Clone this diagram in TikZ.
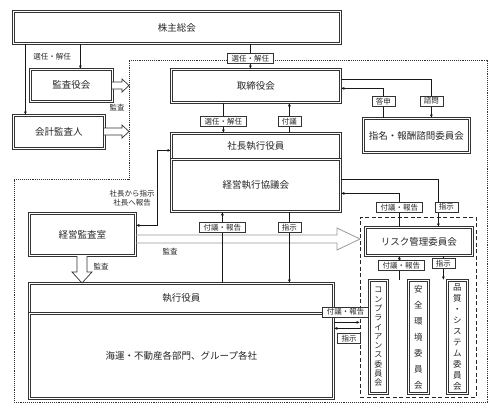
\documentclass[tikz,border=0pt]{standalone}
\usepackage{fontspec}
\setmainfont{Noto Sans CJK JP}
\usetikzlibrary{arrows.meta}

\begin{document}
\begin{tikzpicture}[x=1pt,y=-1pt,
  box/.style={draw=black!80, double=white, double distance=1.1pt, line width=0.8pt, fill=white,
    font=\fontsize{9.5}{11}\selectfont, text=black!85, inner sep=0pt, anchor=north west},
  vbox/.style={box, align=center},
  grp/.style={draw=black!85, line width=0.8pt, dash pattern=on 4pt off 2.5pt, inner sep=0pt, anchor=north west},
  lbl/.style={draw=black!80, fill=white, line width=0.6pt, font=\fontsize{7.5}{9}\selectfont,
    inner xsep=4pt, inner ysep=1.5pt, text=black!85},
  txt/.style={font=\fontsize{7.5}{9}\selectfont, text=black!85, align=center},
  arr/.style={draw=black!90, line width=0.7pt, -{Latex[length=3.5pt,width=3pt]}},
  biarr/.style={arr, {Latex[length=3.5pt,width=3pt]}-{Latex[length=3.5pt,width=3pt]}},
  hollow/.style={draw=black!80, line width=0.7pt, fill=white, line join=miter},
  ghollow/.style={draw=black!40, line width=0.8pt, line join=miter},
  zone/.style={draw=black!80, densely dotted, line width=0.9pt}]
\useasboundingbox (0,0) rectangle (497,410);

% boxes
\node[box, minimum width=327pt, minimum height=32pt] (meeting) at (13,11) {株主総会};
\node[box, minimum width=82pt, minimum height=32pt] (kansayaku) at (30,69) {監査役会};
\node[box, minimum width=91pt, minimum height=33pt] (kaikei) at (13,115) {会計監査人};
\node[box, minimum width=169pt, minimum height=33pt] (tori) at (171,69) {取締役会};
\node[box, minimum width=106pt, minimum height=34pt] (shimei) at (363,118) {指名・報酬諮問委員会};
\node[box, minimum width=169pt, minimum height=26pt] (shacho) at (171,133) {社長執行役員};
\node[box, minimum width=169pt, minimum height=52pt] (kyogikai) at (171,159) {経営執行協議会};
\node[box, minimum width=106pt, minimum height=42pt] (audit) at (29,213) {経営監査室};
\node[box, minimum width=304pt, minimum height=30pt] (shikko) at (29,283) {執行役員};
\node[box, minimum width=304pt, minimum height=85pt] (bumon) at (29,313) {海運・不動産各部門、グループ各社};
\node[grp, minimum width=116pt, minimum height=180pt] (group) at (360,217) {};
\node[box, minimum width=107pt, minimum height=28pt] (risk) at (365,227) {リスク管理委員会};
\node[vbox, font=\fontsize{8}{9.3}\selectfont, minimum width=18pt, minimum height=113pt] (comp) at (369,280)
  {コ\\ン\\プ\\ラ\\イ\\ア\\ン\\ス\\委\\員\\会};
\node[vbox, font=\fontsize{8.5}{16}\selectfont, minimum width=20pt, minimum height=113pt] (anzen) at (408,280)
  {安\\全\\環\\境\\委\\員\\会};
\node[vbox, font=\fontsize{8.5}{11}\selectfont, minimum width=20pt, minimum height=113pt] (hinshitsu) at (447,280)
  {品\\質\\・\\シ\\ス\\テ\\ム\\委\\員\\会};

% dotted zone
\draw[zone] (129,60) -- (487,60) -- (487,402) -- (14,402) -- (14,179) -- (129,179) -- cycle;

% hollow arrows
\draw[hollow] (112,82) -- (122,82) -- (122,79) -- (129,85.5) -- (122,92) -- (122,89) -- (112,89);
\draw[hollow] (104,128) -- (122,128) -- (122,125) -- (129,131.5) -- (122,138) -- (122,135) -- (104,135);
\draw[ghollow] (136,235) -- (337,235) -- (337,228) -- (360,239) -- (337,250) -- (337,243) -- (136,243);
\draw[hollow] (77,256) -- (77,272) -- (72,272) -- (82,283) -- (92,272) -- (87,272) -- (87,256);
\node[txt] (k1) at (117,108) {監査};
\node[txt] (k2) at (170,252) {監査};
\node[txt] (k3) at (101,267) {監査};

% from the shareholders
\draw[arr] ([xshift=-33.5pt]kaikei.north |- meeting.south) -- ([xshift=-33.5pt]kaikei.north);
\draw[arr] ([xshift=9pt]kansayaku.north |- meeting.south) -- ([xshift=9pt]kansayaku.north);
\node[txt] (sennin) at (52,57) {選任・解任};
\draw[arr] ([xshift=-5.5pt]tori.north |- meeting.south) -- node[lbl, pos=0.58] (l1) {選任・解任} ([xshift=-5.5pt]tori.north);

% board and president
\draw[arr] ([xshift=-32.5pt]tori.south) -- node[lbl, pos=0.61] (l2) {選任・解任} ([xshift=-32.5pt]tori.south |- shacho.north);
\draw[arr] ([xshift=33.5pt]tori.south |- shacho.north) -- node[lbl, pos=0.39] (l3) {付議} ([xshift=33.5pt]tori.south);

% advisory committee
\draw[arr] ([yshift=6.5pt]tori.east) -| node[lbl, pos=0.78] (l4) {諮問} ([xshift=15pt]shimei.north);
\draw[arr] ([xshift=-33pt]shimei.north) |- node[lbl, pos=0.28] (l5) {答申} ([yshift=-2.5pt]tori.east);

% internal audit
\draw[biarr] ([yshift=9pt]audit.east) -- ++(22,0) |- ([yshift=-4pt]shacho.west);
\node[txt] (houkoku) at (132,198) {社長から指示\\社長へ報告};

% council and officers
\draw[arr] ([xshift=-33.5pt]kyogikai.south |- shikko.north) -- node[lbl, pos=0.78] (l6) {付議・報告} ([xshift=-33.5pt]kyogikai.south);
\draw[arr] ([xshift=33.5pt]kyogikai.south) -- node[lbl, pos=0.22] (l7) {指示} ([xshift=33.5pt]kyogikai.south |- shikko.north);

% risk committee
\draw[arr] ([xshift=-19.5pt]risk.north) |- node[lbl, pos=0.29] (l8) {付議・報告} ([yshift=-8pt]kyogikai.east);
\draw[arr] ([yshift=6pt]kyogikai.east) -| node[lbl, pos=0.79, xshift=8pt] (l9) {指示} ([xshift=19.5pt]risk.north);
\draw[arr] ([xshift=-19.5pt]risk.south |- comp.north) -- node[lbl, pos=0.6, xshift=2pt] (l10) {付議・報告} ([xshift=-19.5pt]risk.south);
\draw[arr] ([xshift=24.5pt]risk.south) -- node[lbl, pos=0.32] (l11) {指示} ([xshift=24.5pt]risk.south |- comp.north);

% officers and compliance
\draw[arr] ([yshift=33.5pt]bumon.east) -- ([yshift=33.5pt]bumon.east -| group.west);
\draw[arr] ([yshift=27.5pt]bumon.east -| group.west) -- ([yshift=27.5pt]bumon.east);
\node[lbl] (l12) at (345.5,312) {付議・報告};
\node[lbl] (l13) at (349,338.5) {指示};
\end{tikzpicture}
\end{document}
